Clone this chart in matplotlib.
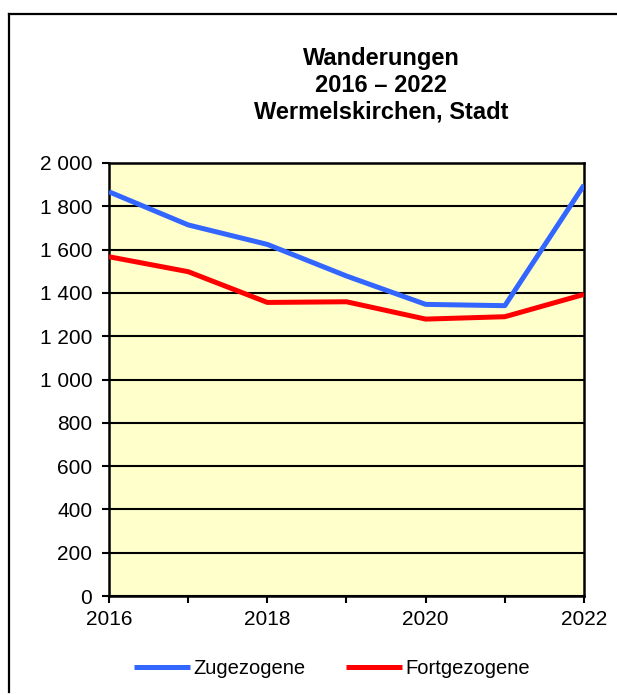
import matplotlib
matplotlib.use("Agg")
import matplotlib.pyplot as plt
from matplotlib.lines import Line2D
from matplotlib.ticker import FuncFormatter, MultipleLocator

plt.rcParams['font.family'] = ['Liberation Sans', 'DejaVu Sans']

# data
years = [2016, 2017, 2018, 2019, 2020, 2021, 2022]
zugezogene = [1867, 1714, 1624, 1478, 1347, 1341, 1898]
fortgezogene = [1567, 1498, 1356, 1359, 1279, 1290, 1393]
title_lines = ["Wanderungen", "2016 \u2013 2022", "Wermelskirchen, Stadt"]

W, H = 617, 695
fig = plt.figure(figsize=(W / 100, H / 100), dpi=100)

def fx(px):
    return px / W

def fy(py):
    return 1 - py / H

ax = fig.add_axes([fx(109), fy(596), fx(584) - fx(109), fy(163) - fy(596)])
ax.set_facecolor('#FFFFCC')

ax.plot(years, zugezogene, color='#3366FF', lw=3.6, label='Zugezogene',
        solid_capstyle='butt', zorder=3)
ax.plot(years, fortgezogene, color='#FF0000', lw=3.6, label='Fortgezogene',
        solid_capstyle='butt', zorder=3)

ax.set_xlim(2016, 2022)
ax.set_ylim(0, 2000)
ax.yaxis.set_major_locator(MultipleLocator(200))
ax.yaxis.set_major_formatter(FuncFormatter(lambda v, p: f"{int(v):,}".replace(",", " ")))
ax.xaxis.set_major_locator(MultipleLocator(2))
ax.xaxis.set_minor_locator(MultipleLocator(1))
ax.grid(axis='y', color='black', lw=1.5, zorder=1)
ax.set_axisbelow(True)

for s in ax.spines.values():
    s.set_linewidth(1.8)
ax.tick_params(axis='y', direction='out', length=5, width=1.5, pad=7, labelsize=15)
ax.tick_params(axis='x', which='both', direction='out', length=5, width=1.5, pad=5, labelsize=15)

# title, three centred lines
for txt, base in zip(title_lines, [65, 92, 118]):
    fig.text(fx(381), fy(base), txt, ha='center', va='baseline',
             fontsize=17, fontweight='bold')

fig.legend(loc='center', bbox_to_anchor=(fx(332), fy(669)), ncol=2, frameon=False,
           fontsize=14.5, handlelength=2.8, handletextpad=0.15, columnspacing=2.0)

# outer frame (only left and top edges are visible)
fig.add_artist(Line2D([fx(8.5), fx(8.5)], [fy(13.5), fy(692)], color='black', lw=1.6))
fig.add_artist(Line2D([fx(8.5), 1.0], [fy(13.5), fy(13.5)], color='black', lw=1.6))

fig.savefig('out.png', dpi=100)
